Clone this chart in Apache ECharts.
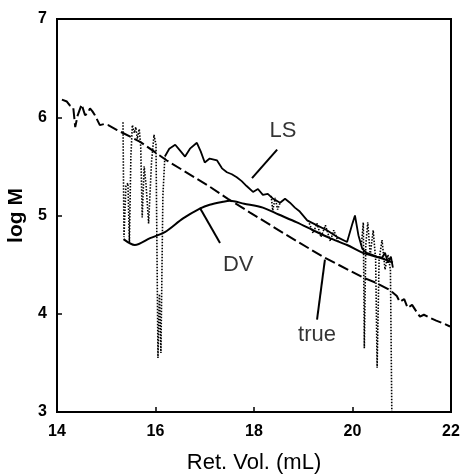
<!DOCTYPE html>
<html>
<head>
<meta charset="utf-8">
<script src="https://cdn.jsdelivr.net/npm/echarts@6/dist/echarts.min.js"></script>
<style>html,body{margin:0;padding:0;background:#fff;}#c{width:460px;height:475px;}</style>
</head>
<body>
<div id="c"></div>
<script>
// x tick labels / y tick labels
const xTicks = [14, 16, 18, 20, 22];
const yTicks = [3, 4, 5, 6, 7];

// "true" calibration (dashed)
const trueLine = [
  [14.10,6.18],[14.20,6.16],[14.26,6.12],[14.33,6.10],[14.37,5.90],[14.42,6.02],[14.50,6.13],[14.57,6.02],
  [14.62,6.04],[14.67,6.09],[14.72,6.06],[14.77,6.02],[14.87,5.92],[14.95,5.93],[15.04,5.92],[15.22,5.87],
  [15.69,5.75],[16.23,5.56],[17.05,5.31],[17.47,5.17],[17.92,5.03],[18.60,4.82],[19.40,4.58],[20.21,4.37],
  [20.50,4.31],[20.76,4.24],[20.90,4.18],[20.96,4.12],[21.05,4.15],[21.12,4.06],[21.21,4.09],[21.30,4.02],
  [21.37,3.97],[21.45,3.99],[21.57,3.96],[21.70,3.93],[21.85,3.90],[21.98,3.87]
];

// LS (solid, noisy)
const lsLine = [
  [16.19,5.60],[16.28,5.68],[16.40,5.72],[16.50,5.66],[16.60,5.60],[16.70,5.68],[16.84,5.74],[16.92,5.65],
  [17.00,5.54],[17.10,5.58],[17.25,5.56],[17.35,5.48],[17.45,5.44],[17.55,5.42],[17.65,5.39],[17.75,5.35],
  [17.85,5.30],[17.98,5.24],[18.08,5.27],[18.18,5.21],[18.28,5.22],[18.39,5.17],[18.53,5.13],[18.63,5.17],
  [18.73,5.13],[18.83,5.08],[18.93,5.04],[19.08,4.95],[19.28,4.90],[19.48,4.85],[19.69,4.78],[19.89,4.73],
  [20.00,4.92],[20.05,5.00],[20.12,4.80],[20.20,4.66],[20.29,4.62],[20.40,4.60],[20.50,4.58],[20.60,4.57],
  [20.66,4.62],[20.72,4.52],[20.78,4.58],[20.82,4.47]
];

// DV (solid, smooth)
const dvLine = [
  [15.35,4.76],[15.58,4.70],[15.89,4.77],[16.19,4.83],[16.56,4.97],[16.90,5.07],[17.10,5.11],[17.37,5.14],
  [17.51,5.15],[17.80,5.12],[18.18,5.08],[18.50,5.01],[18.87,4.93],[19.20,4.85],[19.54,4.77],[19.89,4.70],
  [20.21,4.62],[20.56,4.57],[20.82,4.52]
];

// noisy edge signal (dotted)
const noiseLine = [
  [15.34,5.95],[15.36,4.78],[15.40,5.30],[15.44,5.33],[15.47,4.72],[15.50,5.60],[15.53,5.92],[15.57,5.84],
  [15.60,5.90],[15.63,5.78],[15.67,5.88],[15.70,5.70],[15.73,4.98],[15.77,5.50],[15.81,5.30],[15.86,4.92],
  [15.92,5.55],[15.97,5.82],[16.01,5.72],[16.05,3.55],[16.08,4.20],[16.11,3.60],[16.15,5.20],[16.19,5.60],
  null,
  [18.35,5.20],[18.38,5.05],[18.43,5.18],[18.48,5.06],[18.53,5.13],
  null,
  [19.10,4.95],[19.20,4.82],[19.28,4.92],[19.36,4.78],[19.45,4.90],[19.55,4.74],[19.62,4.85],[19.72,4.72],
  null,
  [20.18,4.70],[20.22,4.93],[20.24,3.65],[20.27,4.70],[20.31,4.93],[20.36,4.60],[20.42,4.85],[20.47,4.55],
  [20.50,3.45],[20.54,4.55],[20.60,4.75],[20.66,4.45],[20.72,4.60],[20.77,4.45],[20.80,2.90]
];

// annotation texts and their pointers (data coords)
const labelTexts = [
  {name: 'LS', value: [18.59, 5.86]},
  {name: 'DV', value: [17.68, 4.50]},
  {name: 'true', value: [19.28, 3.78]}
];
const pointers = [
  [[18.47, 5.67], [17.96, 5.38]],
  [[16.90, 5.08], [17.31, 4.72]],
  [[19.44, 4.55], [19.28, 3.94]]
];

const font = '"Liberation Sans", Arial, sans-serif';
const chart = echarts.init(document.getElementById('c'), null, {renderer: 'canvas'});

const series = [
  {type: 'line', data: noiseLine, showSymbol: false, connectNulls: false, z: 2,
   lineStyle: {color: '#000', width: 1.6, type: [1.5, 1.5]}},
  {type: 'line', data: trueLine, showSymbol: false, z: 3,
   lineStyle: {color: '#000', width: 2, type: [11, 4]}},
  {type: 'line', data: lsLine, showSymbol: false, z: 3,
   lineStyle: {color: '#000', width: 1.8}},
  {type: 'line', data: dvLine, showSymbol: false, smooth: 0.3, z: 3,
   lineStyle: {color: '#000', width: 2}},
  {type: 'scatter', data: labelTexts, symbolSize: 0, z: 5,
   label: {show: true, position: 'inside', formatter: p => p.name,
     fontFamily: font, fontSize: 22, color: '#000'}}
];
pointers.forEach(p => series.push({type: 'line', data: p, showSymbol: false, z: 4,
  lineStyle: {color: '#000', width: 2}}));

chart.setOption({
  animation: false,
  backgroundColor: '#fff',
  grid: {left: 57, right: 9, top: 19, bottom: 63, show: true, borderColor: '#000', borderWidth: 2,
    containLabel: false, outerBoundsMode: 'none'},
  xAxis: {
    type: 'value', min: 14, max: 22, interval: 2,
    name: 'Ret. Vol. (mL)', nameLocation: 'middle', nameGap: 40,
    nameTextStyle: {fontFamily: font, fontSize: 22, color: '#000'},
    axisLine: {lineStyle: {color: '#000', width: 2}},
    axisTick: {inside: true, length: 5, lineStyle: {color: '#000', width: 1.5}},
    axisLabel: {fontFamily: font, fontSize: 16, fontWeight: 'bold', color: '#000', margin: 12,
      customValues: xTicks},
    splitLine: {show: false}
  },
  yAxis: {
    type: 'value', min: 3, max: 7, interval: 1,
    name: 'log M', nameLocation: 'middle', nameGap: 27, nameRotate: 90,
    nameTextStyle: {fontFamily: font, fontSize: 21, fontWeight: 'bold', color: '#000'},
    axisLine: {lineStyle: {color: '#000', width: 2}},
    axisTick: {inside: true, length: 5, lineStyle: {color: '#000', width: 1.5}},
    axisLabel: {fontFamily: font, fontSize: 16, fontWeight: 'bold', color: '#000', margin: 10,
      customValues: yTicks},
    splitLine: {show: false}
  },
  series: series
});
</script>
</body>
</html>
